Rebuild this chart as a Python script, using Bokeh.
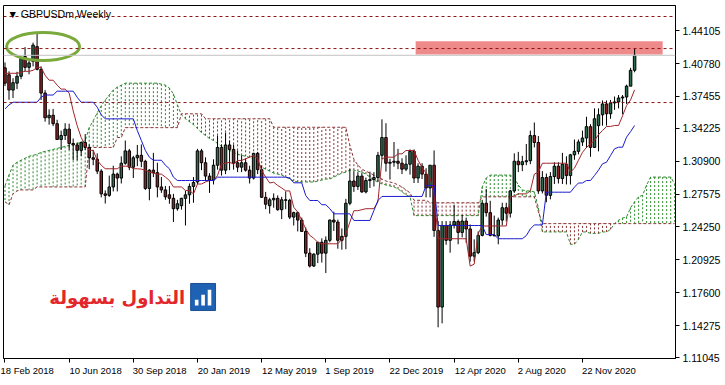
from bokeh.plotting import figure
from bokeh.models import Range1d, FixedTicker, PrintfTickFormatter, Span, Label, ColumnDataSource
from bokeh.core.properties import value
from bokeh.embed import file_html
from bokeh.resources import INLINE

title_text = "\u25BC GBPUSDm,Weekly"
logo_text = "التداول بسهولة"

date_tick_bars = [0, 16, 32, 48, 64, 80, 96, 112, 128, 144]
date_tick_labels = ["18 Feb 2018", "10 Jun 2018", "30 Sep 2018", "20 Jan 2019", "12 May 2019",
                    "1 Sep 2019", "22 Dec 2019", "12 Apr 2020", "2 Aug 2020", "22 Nov 2020"]
price_ticks = [1.11045, 1.14275, 1.17600, 1.20925, 1.24250, 1.27575, 1.30900, 1.34225,
               1.37455, 1.40780, 1.44105]
levels = [1.45545, 1.42302, 1.36839]
bid_price = 1.41618
zone_top, zone_bottom = 1.4305, 1.4170
zone_left, zone_right = 102.4, 164.0

opens = [
    1.4035, 1.3965, 1.3810, 1.3880, 1.3950, 1.4150, 1.4040, 1.4100, 1.4250, 1.4020,
    1.3780, 1.3530, 1.3555, 1.3470, 1.3310, 1.3350, 1.3415, 1.3270, 1.3255, 1.3200,
    1.3280, 1.3230, 1.3125, 1.3110, 1.2990, 1.2760, 1.2745, 1.2830, 1.2960, 1.2920,
    1.3070, 1.3195, 1.3030, 1.3125, 1.3150, 1.3090, 1.2815, 1.3000, 1.2975, 1.2830,
    1.2800, 1.2750, 1.2715, 1.2610, 1.2640, 1.2715, 1.2750, 1.2835, 1.2880, 1.3195,
    1.3075, 1.2940, 1.2900, 1.3050, 1.3230, 1.3000, 1.3255, 1.3210, 1.3075, 1.3030,
    1.3075, 1.3000, 1.2920, 1.3170, 1.3005, 1.2725, 1.2640, 1.2700, 1.2715, 1.2600,
    1.2700, 1.2695, 1.2525, 1.2570, 1.2495, 1.2380, 1.2160, 1.2030, 1.2150, 1.2270,
    1.2160, 1.2290, 1.2495, 1.2475, 1.2290, 1.2330, 1.2665, 1.2890, 1.2835, 1.2940,
    1.2780, 1.2895, 1.2905, 1.2925, 1.3150, 1.3330, 1.3070, 1.3080, 1.3090, 1.3070,
    1.3010, 1.3060, 1.3190, 1.2920, 1.3040, 1.2960, 1.2820, 1.3050, 1.2390, 1.1615,
    1.2440, 1.2290, 1.2445, 1.2480, 1.2370, 1.2485, 1.2405, 1.2130, 1.2165, 1.2340,
    1.2665, 1.2570, 1.2340, 1.2335, 1.2495, 1.2620, 1.2565, 1.2790, 1.3090, 1.3055,
    1.3085, 1.3095, 1.3350, 1.3280, 1.2790, 1.2925, 1.2745, 1.2935, 1.3040, 1.2915,
    1.3060, 1.2945, 1.3155, 1.3190, 1.3285, 1.3325, 1.3440, 1.3230, 1.3450, 1.3560,
    1.3670, 1.3570, 1.3680, 1.3690, 1.3730, 1.3740, 1.3850, 1.4010,
]
highs = [
    1.4090, 1.4000, 1.3930, 1.3995, 1.4150, 1.4245, 1.4110, 1.4290, 1.4377, 1.4050,
    1.3810, 1.3615, 1.3620, 1.3510, 1.3400, 1.3475, 1.3470, 1.3320, 1.3280, 1.3290,
    1.3365, 1.3260, 1.3205, 1.3170, 1.3010, 1.2795, 1.2945, 1.3045, 1.2975, 1.3140,
    1.3300, 1.3215, 1.3145, 1.3255, 1.3260, 1.3105, 1.3010, 1.3175, 1.3075, 1.2930,
    1.2840, 1.2840, 1.2760, 1.2700, 1.2720, 1.2790, 1.2865, 1.2930, 1.3215, 1.3215,
    1.3130, 1.2970, 1.3110, 1.3350, 1.3260, 1.3380, 1.3300, 1.3260, 1.3200, 1.3150,
    1.3120, 1.3045, 1.3175, 1.3185, 1.3045, 1.2780, 1.2720, 1.2765, 1.2745, 1.2730,
    1.2785, 1.2710, 1.2580, 1.2580, 1.2520, 1.2420, 1.2210, 1.2160, 1.2275, 1.2310,
    1.2330, 1.2500, 1.2580, 1.2500, 1.2410, 1.2710, 1.3010, 1.2990, 1.2980, 1.2975,
    1.2925, 1.2985, 1.2980, 1.3185, 1.3514, 1.3475, 1.3115, 1.3285, 1.3215, 1.3120,
    1.3150, 1.3210, 1.3210, 1.3070, 1.3070, 1.3020, 1.3050, 1.3200, 1.2485, 1.2485,
    1.2485, 1.2485, 1.2650, 1.2500, 1.2545, 1.2520, 1.2450, 1.2300, 1.2380, 1.2700,
    1.2810, 1.2690, 1.2540, 1.2520, 1.2670, 1.2670, 1.2800, 1.3170, 1.3185, 1.3145,
    1.3265, 1.3400, 1.3482, 1.3345, 1.2990, 1.2965, 1.2980, 1.3080, 1.3080, 1.3175,
    1.3140, 1.3165, 1.3310, 1.3310, 1.3400, 1.3540, 1.3465, 1.3625, 1.3625, 1.3705,
    1.3705, 1.3710, 1.3745, 1.3760, 1.3760, 1.3865, 1.4035, 1.4230,
]
lows = [
    1.3850, 1.3712, 1.3730, 1.3820, 1.3920, 1.4000, 1.3970, 1.4050, 1.4010, 1.3710,
    1.3490, 1.3460, 1.3445, 1.3305, 1.3205, 1.3305, 1.3205, 1.3100, 1.3100, 1.3145,
    1.3205, 1.3010, 1.3050, 1.2960, 1.2725, 1.2662, 1.2730, 1.2785, 1.2785, 1.2865,
    1.3055, 1.3000, 1.2920, 1.3040, 1.3030, 1.2800, 1.2695, 1.2930, 1.2725, 1.2770,
    1.2700, 1.2660, 1.2475, 1.2590, 1.2600, 1.2440, 1.2660, 1.2670, 1.2860, 1.3000,
    1.2890, 1.2770, 1.2855, 1.3005, 1.2945, 1.2960, 1.3000, 1.3005, 1.2980, 1.2980,
    1.2985, 1.2865, 1.2905, 1.2960, 1.2720, 1.2605, 1.2560, 1.2620, 1.2590, 1.2505,
    1.2605, 1.2505, 1.2440, 1.2380, 1.2380, 1.2120, 1.2015, 1.2020, 1.2060, 1.2065,
    1.1959, 1.2270, 1.2385, 1.2205, 1.2195, 1.2200, 1.2645, 1.2780, 1.2800, 1.2770,
    1.2765, 1.2820, 1.2835, 1.2885, 1.3110, 1.2985, 1.2905, 1.3035, 1.3010, 1.2960,
    1.2990, 1.2955, 1.2870, 1.2870, 1.2910, 1.2725, 1.2725, 1.2325, 1.1410, 1.1450,
    1.2245, 1.2165, 1.2410, 1.2250, 1.2320, 1.2265, 1.2075, 1.2075, 1.2150, 1.2330,
    1.2530, 1.2330, 1.2335, 1.2250, 1.2440, 1.2480, 1.2520, 1.2770, 1.2980, 1.2990,
    1.3050, 1.3060, 1.3230, 1.2760, 1.2765, 1.2675, 1.2705, 1.2860, 1.2865, 1.2860,
    1.2855, 1.2855, 1.3105, 1.3160, 1.3245, 1.3225, 1.3135, 1.3225, 1.3190, 1.3450,
    1.3450, 1.3520, 1.3610, 1.3625, 1.3565, 1.3670, 1.3850, 1.3990,
]
closes = [
    1.3880, 1.3810, 1.3885, 1.3950, 1.4130, 1.4040, 1.4085, 1.4265, 1.4020, 1.3780,
    1.3530, 1.3555, 1.3470, 1.3310, 1.3350, 1.3415, 1.3270, 1.3255, 1.3200, 1.3280,
    1.3230, 1.3125, 1.3110, 1.2990, 1.2760, 1.2745, 1.2830, 1.2960, 1.2920, 1.3070,
    1.3195, 1.3030, 1.3125, 1.3150, 1.3090, 1.2815, 1.3000, 1.2975, 1.2830, 1.2800,
    1.2730, 1.2715, 1.2610, 1.2660, 1.2715, 1.2750, 1.2835, 1.2875, 1.3195, 1.3075,
    1.2940, 1.2900, 1.3050, 1.3230, 1.3000, 1.3255, 1.3210, 1.3070, 1.3030, 1.3075,
    1.3000, 1.2920, 1.3170, 1.3005, 1.2725, 1.2655, 1.2700, 1.2715, 1.2600, 1.2700,
    1.2695, 1.2525, 1.2570, 1.2495, 1.2380, 1.2160, 1.2030, 1.2150, 1.2270, 1.2160,
    1.2290, 1.2495, 1.2475, 1.2290, 1.2330, 1.2665, 1.2890, 1.2835, 1.2940, 1.2780,
    1.2895, 1.2905, 1.2925, 1.3150, 1.3330, 1.3070, 1.3080, 1.3090, 1.3070, 1.3010,
    1.3060, 1.3190, 1.2920, 1.3040, 1.2960, 1.2820, 1.3050, 1.2390, 1.1615, 1.2440,
    1.2290, 1.2445, 1.2480, 1.2370, 1.2485, 1.2405, 1.2130, 1.2165, 1.2340, 1.2665,
    1.2570, 1.2340, 1.2335, 1.2495, 1.2620, 1.2565, 1.2790, 1.3090, 1.3055, 1.3085,
    1.3095, 1.3350, 1.3280, 1.2790, 1.2925, 1.2745, 1.2935, 1.3040, 1.2915, 1.3060,
    1.2945, 1.3155, 1.3190, 1.3285, 1.3325, 1.3440, 1.3230, 1.3520, 1.3560, 1.3670,
    1.3570, 1.3680, 1.3690, 1.3730, 1.3740, 1.3850, 1.4010, 1.4162,
]

tenkan = [
    1.398, 1.398, 1.398, 1.398, 1.399, 1.400, 1.400, 1.401, 1.404, 1.404,
    1.396, 1.391, 1.391, 1.386, 1.382, 1.382, 1.378, 1.360, 1.345, 1.333,
    1.325, 1.320, 1.320, 1.310, 1.305, 1.3014, 1.3014, 1.3014, 1.3014, 1.304,
    1.304, 1.304, 1.3014, 1.3014, 1.301, 1.300, 1.298, 1.297, 1.296, 1.296,
    1.293, 1.2895, 1.283, 1.283, 1.283, 1.2794, 1.2794, 1.276, 1.286, 1.286,
    1.288, 1.2895, 1.2895, 1.2946, 1.3064, 1.307, 1.308, 1.306, 1.3098, 1.3098,
    1.3115, 1.3131, 1.3148, 1.3115, 1.2997, 1.293, 1.287, 1.2878, 1.2845, 1.282,
    1.279, 1.279, 1.2625, 1.2575, 1.2491, 1.2406, 1.234, 1.231, 1.227, 1.2255,
    1.2255, 1.2255, 1.2255, 1.2255, 1.230, 1.2356, 1.2474, 1.259, 1.259, 1.260,
    1.261, 1.261, 1.261, 1.268, 1.3115, 1.3131, 1.3131, 1.3131, 1.3165, 1.3165,
    1.3199, 1.3199, 1.3199, 1.310, 1.303, 1.297, 1.292, 1.2765, 1.2306, 1.2306,
    1.2306, 1.2306, 1.2306, 1.2306, 1.2306, 1.2306, 1.2029, 1.2049, 1.236, 1.2435,
    1.2435, 1.2435, 1.2435, 1.2435, 1.2435, 1.2435, 1.2726, 1.274, 1.276, 1.276,
    1.276, 1.279, 1.296, 1.298, 1.307, 1.307, 1.307, 1.307, 1.307, 1.307,
    1.307, 1.298, 1.302, 1.310, 1.318, 1.323, 1.3266, 1.330, 1.336, 1.340,
    1.3442, 1.3442, 1.3452, 1.3452, 1.355, 1.3654, 1.371, 1.3813,
]
kijun = [
    1.362, 1.366, 1.3687, 1.3687, 1.3687, 1.3687, 1.3687, 1.3687, 1.3687, 1.3738,
    1.376, 1.376, 1.376, 1.3799, 1.3799, 1.3799, 1.3799, 1.3799, 1.3738, 1.3687,
    1.3687, 1.3687, 1.3687, 1.3637, 1.356, 1.3519, 1.3519, 1.3519, 1.3519, 1.3519,
    1.3519, 1.3519, 1.3519, 1.340, 1.330, 1.320, 1.3131, 1.310, 1.310, 1.310,
    1.305, 1.3014, 1.2929, 1.2895, 1.2895, 1.2895, 1.2895, 1.2895, 1.2895, 1.2895,
    1.2895, 1.2895, 1.2895, 1.2929, 1.2929, 1.2929, 1.2929, 1.2929, 1.2929, 1.2929,
    1.2929, 1.2929, 1.2929, 1.2929, 1.2929, 1.2929, 1.2929, 1.2929, 1.2929, 1.2929,
    1.2929, 1.292, 1.2872, 1.2872, 1.2872, 1.2743, 1.2693, 1.2693, 1.2693, 1.265,
    1.265, 1.261, 1.2558, 1.2558, 1.2558, 1.2558, 1.2558, 1.2491, 1.2491, 1.2491,
    1.2491, 1.2491, 1.2592, 1.2693, 1.2734, 1.2734, 1.2734, 1.2734, 1.2734, 1.2734,
    1.2734, 1.2734, 1.2734, 1.2734, 1.2734, 1.2845, 1.2845, 1.2845, 1.2440, 1.2440,
    1.2440, 1.2440, 1.2440, 1.2440, 1.2440, 1.2440, 1.2440, 1.2440, 1.2440, 1.2440,
    1.2348, 1.2348, 1.2348, 1.2306, 1.2306, 1.2306, 1.2306, 1.2306, 1.2306, 1.2306,
    1.2338, 1.2405, 1.2446, 1.2446, 1.2446, 1.2777, 1.2777, 1.2777, 1.2777, 1.2777,
    1.2777, 1.2777, 1.2828, 1.2870, 1.2870, 1.2895, 1.2895, 1.2946, 1.300, 1.3064,
    1.308, 1.3148, 1.3216, 1.3232, 1.3232, 1.3334, 1.339, 1.3452,
]
span_a = [
    1.284, 1.295, 1.305, 1.308, 1.310, 1.312, 1.314, 1.315, 1.316, 1.318,
    1.319, 1.320, 1.321, 1.322, 1.323, 1.324, 1.325, 1.326, 1.327, 1.328,
    1.330, 1.343, 1.350, 1.358, 1.365, 1.371, 1.376, 1.381, 1.384, 1.386,
    1.388, 1.388, 1.388, 1.388, 1.388, 1.388, 1.388, 1.388, 1.388, 1.387,
    1.386, 1.383, 1.377, 1.366, 1.356, 1.352, 1.349, 1.346, 1.342, 1.338,
    1.335, 1.332, 1.330, 1.327, 1.324, 1.322, 1.320, 1.318, 1.316, 1.315,
    1.314, 1.313, 1.311, 1.308, 1.303, 1.301, 1.299, 1.297, 1.296, 1.295,
    1.293, 1.291, 1.289, 1.288, 1.288, 1.288, 1.288, 1.288, 1.289, 1.290,
    1.291, 1.291, 1.293, 1.295, 1.297, 1.298, 1.300, 1.300, 1.299, 1.298,
    1.296, 1.293, 1.290, 1.288, 1.286, 1.285, 1.284, 1.283, 1.281, 1.278,
    1.275, 1.273, 1.254, 1.254, 1.254, 1.254, 1.254, 1.254, 1.254, 1.254,
    1.254, 1.254, 1.254, 1.254, 1.254, 1.254, 1.254, 1.254, 1.254, 1.283,
    1.292, 1.295, 1.295, 1.295, 1.295, 1.295, 1.295, 1.292, 1.285, 1.280,
    1.279, 1.279, 1.278, 1.262, 1.2375, 1.2375, 1.2375, 1.2375, 1.2375, 1.2375,
    1.2375, 1.225, 1.225, 1.230, 1.2375, 1.2375, 1.236, 1.236, 1.236, 1.2375,
    1.2375, 1.240, 1.246, 1.2493, 1.2515, 1.2527, 1.262, 1.268, 1.273, 1.2746,
    1.285, 1.293, 1.293, 1.293, 1.293, 1.293, 1.293, 1.286,
]
span_b = [
    1.268, 1.265, 1.276, 1.279, 1.280, 1.280, 1.280, 1.280, 1.283, 1.283,
    1.283, 1.283, 1.283, 1.283, 1.283, 1.283, 1.283, 1.283, 1.283, 1.283,
    1.283, 1.323, 1.323, 1.323, 1.323, 1.323, 1.323, 1.323, 1.333, 1.333,
    1.343, 1.343, 1.343, 1.343, 1.343, 1.343, 1.343, 1.343, 1.343, 1.343,
    1.343, 1.343, 1.343, 1.343, 1.357, 1.357, 1.357, 1.357, 1.357, 1.357,
    1.352, 1.352, 1.352, 1.352, 1.352, 1.352, 1.352, 1.352, 1.352, 1.352,
    1.352, 1.352, 1.352, 1.352, 1.352, 1.352, 1.352, 1.3434, 1.3434, 1.3434,
    1.3434, 1.3434, 1.3434, 1.3434, 1.3434, 1.3434, 1.3434, 1.3434, 1.3434, 1.3434,
    1.3434, 1.3434, 1.3434, 1.3434, 1.3434, 1.3434, 1.325, 1.311, 1.305, 1.301,
    1.299, 1.297, 1.295, 1.293, 1.291, 1.289, 1.288, 1.287, 1.285, 1.283,
    1.280, 1.277, 1.2695, 1.2695, 1.2695, 1.2695, 1.267, 1.267, 1.267, 1.267,
    1.267, 1.267, 1.267, 1.267, 1.267, 1.267, 1.267, 1.267, 1.267, 1.273,
    1.273, 1.273, 1.273, 1.273, 1.273, 1.273, 1.273, 1.273, 1.273, 1.273,
    1.273, 1.273, 1.273, 1.258, 1.2459, 1.2459, 1.2459, 1.2459, 1.2459, 1.2459,
    1.2459, 1.2459, 1.2459, 1.2459, 1.2459, 1.2459, 1.2459, 1.2459, 1.2459, 1.2459,
    1.2459, 1.2459, 1.2459, 1.2459, 1.2459, 1.2459, 1.2459, 1.2459, 1.2459, 1.2459,
    1.2459, 1.2459, 1.2459, 1.2459, 1.2459, 1.2459, 1.2459, 1.2459,
]

# ---------------------------------------------------------------- figure
BULL, BEAR = "#2E6B4C", "#8E2222"
LEVEL = "#8B1414"
FONT = "Liberation Sans"

p = figure(width=725, height=385, output_backend="svg", toolbar_location=None,
           x_range=Range1d(-0.374, 167.2), y_range=Range1d(1.10944, 1.46658),
           y_axis_location="right")
p.min_border_left = 3
p.min_border_top = 5
p.min_border_right = 50
p.min_border_bottom = 27
p.outline_line_color = "black"
p.background_fill_color = "white"
p.border_fill_color = "white"
p.xgrid.visible = False
p.ygrid.visible = False

# cloud
n_cloud = len(span_a)
cx = list(range(n_cloud))
cloud_src = ColumnDataSource(dict(
    x=cx, a=span_a, b=span_b,
    c=["#2A8A2A" if span_a[i] >= span_b[i] else "#8B3030" for i in range(n_cloud)]))
p.segment(x0="x", y0="a", x1="x", y1="b", source=cloud_src, line_color="c",
          line_width=1, line_dash="2 2")
p.line(cx, span_a, line_color="#2A8A2A", line_dash="3 2", line_width=1)
p.line(cx, span_b, line_color="#8B3030", line_dash="3 2", line_width=1)

# highlighted zone
p.quad(left=[zone_left], right=[zone_right], top=[zone_top], bottom=[zone_bottom],
       fill_color="#EF8A8A", line_alpha=0)

# levels
for lv in levels:
    p.add_layout(Span(location=lv, dimension="width", line_color=LEVEL,
                      line_dash="3 3", line_width=1))
p.add_layout(Span(location=bid_price, dimension="width", line_color="#C4C4C4", line_width=1))

# candles
n = len(opens)
idx = list(range(n))
src = ColumnDataSource(dict(
    x=idx, o=opens, h=highs, l=lows, c=closes,
    top=[max(opens[i], closes[i]) for i in idx],
    bot=[min(opens[i], closes[i]) for i in idx],
    col=[BULL if closes[i] >= opens[i] else BEAR for i in idx]))
p.segment(x0="x", y0="l", x1="x", y1="h", source=src, line_color="black", line_width=1)
p.vbar(x="x", top="top", bottom="bot", width=0.62, source=src,
       fill_color="col", line_color="black", line_width=1)

# ichimoku lines
p.line(idx, tenkan, line_color="#A0262A", line_width=1)
p.line(idx, kijun, line_color="#1A1ACD", line_width=1)

# annotation ellipse around the 2018 top
p.ellipse(x=[9.5], y=[1.4251], width=[18.2], height=[0.0283], fill_alpha=0,
          line_color="#7BAA3C", line_width=3)

# logo
p.text(x=[28.0], y=[1.1712], text=[logo_text], text_font=value("DejaVu Sans"),
       text_font_style="bold", text_font_size="18px", text_color="#E3262B",
       text_align="center", text_baseline="middle")
p.rect(x=[49.4], y=[1.1717], width=[6.2], height=[0.0273], fill_color="#1F62B4",
       line_color="#1A4F93")
p.vbar(x=[47.8, 49.4, 51.0], bottom=[1.1630, 1.1630, 1.1630],
       top=[1.1690, 1.1740, 1.1790], width=0.9, fill_color="white", line_alpha=0)

# title
p.add_layout(Label(x=p.x_range.start, y=p.y_range.end, x_offset=4, y_offset=-2,
                   text=title_text, text_baseline="top", text_font=FONT,
                   text_font_size="10.5px", text_color="black"))

# axes
ya = p.yaxis[0]
ya.ticker = FixedTicker(ticks=price_ticks)
ya.formatter = PrintfTickFormatter(format="%.5f")
ya.major_label_text_font = FONT
ya.major_label_text_font_size = "10.5px"
ya.major_label_text_color = "black"
ya.major_tick_out = 4
ya.major_tick_in = 0
ya.minor_tick_out = 0
ya.minor_tick_in = 0
ya.axis_line_color = "black"
ya.major_tick_line_color = "black"
ya.major_label_standoff = 3

# date axis: MT4 draws each date starting at its tick; Bokeh centres axis labels,
# so each label is preceded by no-break spaces as wide as the text itself.
EM = {" ": 0.278, "F": 0.611, "J": 0.5, "S": 0.667, "M": 0.833, "D": 0.722, "A": 0.667,
      "N": 0.722, "r": 0.333, "y": 0.5, "c": 0.5, "v": 0.5}


def _em(s):
    return sum(EM.get(ch, 0.556) for ch in s)


def _left_aligned(s, first):
    if first:
        return s
    return "\u00A0" * int(round(_em(s) / 0.278)) + s


xa = p.xaxis[0]
xa.ticker = FixedTicker(ticks=date_tick_bars)
xa.major_label_overrides = {b: _left_aligned(t, k == 0)
                            for k, (b, t) in enumerate(zip(date_tick_bars, date_tick_labels))}
xa.major_label_text_font = FONT
xa.major_label_text_font_size = "9.5px"
xa.major_label_text_color = "black"
xa.major_tick_out = 4
xa.major_tick_in = 0
xa.minor_tick_out = 0
xa.minor_tick_in = 0
xa.axis_line_color = "black"
xa.major_label_standoff = 2

# price boxes on the axis
x_end = p.x_range.end
for lv in levels:
    p.add_layout(Label(x=x_end, y=lv, x_offset=3, text="%.5f" % lv, text_baseline="middle",
                       text_font=FONT, text_font_size="10.5px", text_color="white",
                       background_fill_color="#8B1414", padding=2))
p.add_layout(Label(x=x_end, y=bid_price, x_offset=3, text="%.5f" % bid_price,
                   text_baseline="middle", text_font=FONT, text_font_size="10.5px",
                   text_color="white", background_fill_color="black", padding=2))

open("out.html", "w").write(file_html(p, INLINE))
